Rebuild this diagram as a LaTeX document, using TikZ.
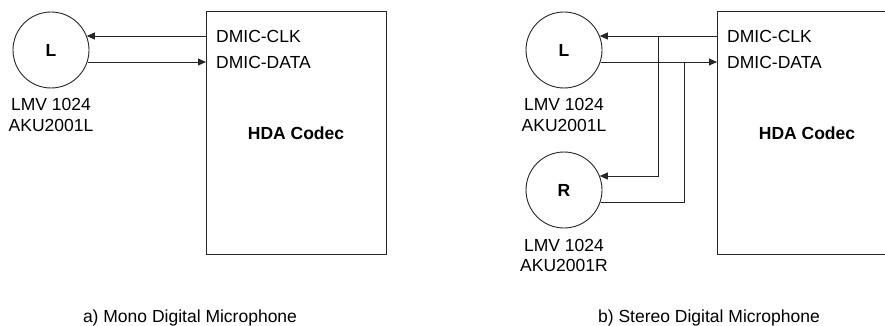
\documentclass[tikz,border=0pt]{standalone}
\usepackage{fontspec}
\setmainfont{Liberation Sans}
\usetikzlibrary{arrows.meta,calc}
\begin{document}
\begin{tikzpicture}[x=1pt,y=-1pt,
  mic/.style={draw=black!85, line width=0.9pt, circle, minimum size=76pt, inner sep=0pt, font=\fontsize{17.5}{21}\selectfont\bfseries},
  codec/.style={draw=black!85, line width=0.9pt, rectangle, minimum width=180pt, minimum height=243pt, anchor=north west, inner sep=0pt},
  lbl/.style={font=\fontsize{17.5}{21}\selectfont, inner sep=0pt},
  blbl/.style={font=\fontsize{17.5}{21}\selectfont\bfseries, inner sep=0pt},
  wire/.style={draw=black!85, line width=0.9pt},
  arr/.style={wire, -{Triangle[length=8pt,width=7pt]}},
]
\useasboundingbox (0,0) rectangle (885,326);
\clip (0,0) rectangle (885,326);

% ---------- a) mono ----------
\node[codec] (box1) at (206,11) {};
\node[mic] (L1) at (51,50) {L};
\node[lbl, anchor=west] (clk1) at (216,36) {DMIC-CLK};
\node[lbl, anchor=west] (data1) at (216,62) {DMIC-DATA};
\node[blbl] (hda1) at (296,133) {HDA Codec};
\node[lbl] (l1a) at (51,104) {LMV 1024};
\node[lbl] (l1b) at (51,125) {AKU2001L};
\node[lbl, anchor=base] (capa) at (190,322) {a) Mono Digital Microphone};

\draw[arr] (box1.west |- clk1.west) -- ($(L1.center)+(35.8,-14)$);
\draw[arr] ($(L1.center)+(36.5,12)$) -- (box1.west |- data1.west);

% ---------- b) stereo ----------
\node[codec] (box2) at (717,11) {};
\node[mic] (L2) at (564,50) {L};
\node[mic] (R2) at (564,190) {R};
\node[lbl, anchor=west] (clk2) at (727,36) {DMIC-CLK};
\node[lbl, anchor=west] (data2) at (727,62) {DMIC-DATA};
\node[blbl] (hda2) at (807,133) {HDA Codec};
\node[lbl] (l2a) at (564,104) {LMV 1024};
\node[lbl] (l2b) at (564,125) {AKU2001L};
\node[lbl] (r2a) at (564,245) {LMV 1024};
\node[lbl] (r2b) at (564,265) {AKU2001R};
\node[lbl, anchor=base] (capb) at (709,322) {b) Stereo Digital Microphone};

\coordinate (jc) at (658,36);
\coordinate (jd) at (684,62);

\draw[arr] (box2.west |- clk2.west) -- ($(L2.center)+(35.8,-14)$);
\draw[arr] ($(L2.center)+(36.5,12)$) -- (box2.west |- data2.west);
\draw[arr] (jc) -- ($(R2.center)+(94,-14)$) -- ($(R2.center)+(35.8,-14)$);
\draw[wire] ($(R2.center)+(36.5,12)$) -- ($(R2.center)+(120,12)$) -- (jd);
\end{tikzpicture}
\end{document}
